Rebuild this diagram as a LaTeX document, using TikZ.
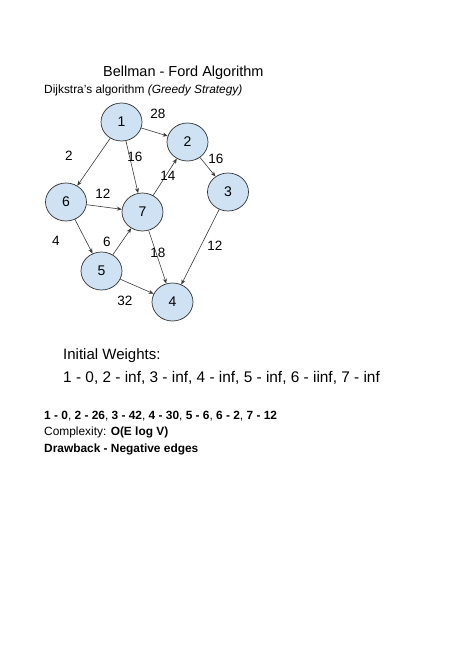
\documentclass[tikz,border=0pt]{standalone}
\usepackage{fontspec}
\setmainfont{Liberation Sans}
\usepackage{xcolor}
\usetikzlibrary{arrows.meta, shapes.geometric}

\definecolor{nodeblue}{HTML}{CFE2F3}
\definecolor{edgegray}{HTML}{3A3A3A}

\begin{document}
\begin{tikzpicture}[x=1pt, y=-1pt,
    vertex/.style={ellipse, draw=black!80, line width=0.7pt, fill=nodeblue,
      minimum width=41pt, minimum height=38pt, inner sep=0pt, font=\fontsize{14}{16}\selectfont},
    edge/.style={draw=edgegray, line width=0.6pt, -{Stealth[length=5pt, width=4pt]}},
    weight/.style={font=\fontsize{13.5}{15}\selectfont},
    txt/.style={anchor=west, inner sep=0pt}]
  % ----- Page frame -----
  \useasboundingbox (0, 0) rectangle (474, 670);
  \fill[white] (0, 0) rectangle (474, 670);

  % ----- Headings -----
  \node[txt, font=\fontsize{14.5}{16}\selectfont] (title) at (103, 73) {Bellman - Ford Algorithm};
  \node[txt, font=\fontsize{11.9}{13}\selectfont] (subtitle) at (44, 90) {Dijkstra's algorithm \textit{(Greedy Strategy)}};

  % ----- Graph vertices -----
  \node[vertex] (v1) at (121.5, 122) {1};
  \node[vertex] (v2) at (187.5, 142) {2};
  \node[vertex] (v3) at (228, 192) {3};
  \node[vertex] (v6) at (66, 202) {6};
  \node[vertex] (v7) at (142.5, 212) {7};
  \node[vertex] (v5) at (101.5, 271) {5};
  \node[vertex] (v4) at (172.5, 302) {4};

  % ----- Directed edges -----
  \draw[edge] (v1) -- (v2);
  \draw[edge] (v1) -- (v6);
  \draw[edge] (v1) -- (v7);
  \draw[edge] (v2) -- (v3);
  \draw[edge] (v7) -- (v2);
  \draw[edge] (v6) -- (v7);
  \draw[edge] (v6) -- (v5);
  \draw[edge] (v5) -- (v7);
  \draw[edge] (v7) -- (v4);
  \draw[edge] (v3) -- (v4);
  \draw[edge] (v5) -- (v4);

  % ----- Edge weights -----
  \node[weight] (w12) at (158, 114) {28};
  \node[weight] (w16) at (69, 156) {2};
  \node[weight] (w17) at (135, 157) {16};
  \node[weight] (w23) at (216, 159) {16};
  \node[weight] (w72) at (168, 176) {14};
  \node[weight] (w67) at (103, 194) {12};
  \node[weight] (w65) at (56, 241) {4};
  \node[weight] (w57) at (107, 242) {6};
  \node[weight] (w74) at (158, 253) {18};
  \node[weight] (w34) at (215, 246) {12};
  \node[weight] (w54) at (125, 301) {32};

  % ----- Notes below the graph -----
  \node[txt, font=\fontsize{15}{17}\selectfont] (init) at (63, 356) {Initial Weights:};
  \node[txt, font=\fontsize{15.4}{17}\selectfont] (initvals) at (63, 378)
    {1 - 0, 2 - inf, 3 - inf, 4 - inf, 5 - inf, 6 - iinf, 7 - inf};
  \node[txt, font=\fontsize{11.9}{13}\selectfont] (result) at (44, 416)
    {\textbf{1 - 0}, \textbf{2 - 26}, \textbf{3 - 42}, \textbf{4 - 30}, \textbf{5 - 6}, \textbf{6 - 2}, \textbf{7 - 12}};
  \node[txt, font=\fontsize{11.9}{13}\selectfont] (complexity) at (44, 432)
    {Complexity: \textbf{O(E log V)}};
  \node[txt, font=\fontsize{11.9}{13}\selectfont] (drawback) at (44, 449)
    {\textbf{Drawback - Negative edges}};
\end{tikzpicture}
\end{document}
